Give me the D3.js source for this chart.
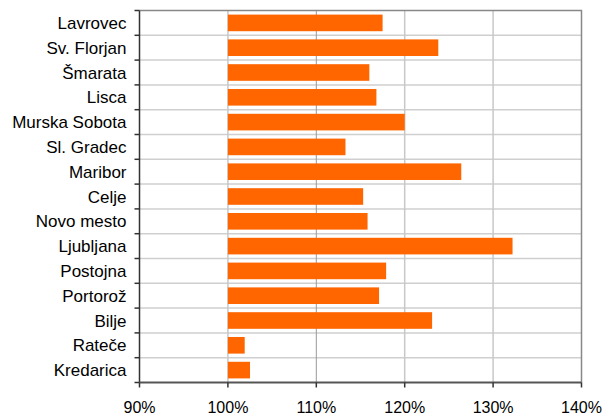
<!DOCTYPE html>
<html><head><meta charset="utf-8">
<script src="https://cdn.jsdelivr.net/npm/d3@7"></script>
<style>body{margin:0;background:#fff}svg{display:block}text{font-family:"Liberation Sans",Arial,sans-serif;fill:#000}</style>
</head><body>
<script>
const categories = ["Lavrovec","Sv. Florjan","Šmarata","Lisca","Murska Sobota","Sl. Gradec","Maribor","Celje","Novo mesto","Ljubljana","Postojna","Portorož","Bilje","Rateče","Kredarica"];
const values = [117.5,123.8,116.0,116.8,120.0,113.3,126.4,115.3,115.8,132.2,117.9,117.1,123.1,101.9,102.5];
const xTicks = [90,100,110,120,130,140];
const baseValue = 100;

const W = 605, H = 414;
const m = {left:139.5, right:23.5, top:10.5, bottom:31.5};
const svg = d3.select("body").append("svg").attr("width",W).attr("height",H);

const x = d3.scaleLinear().domain([90,140]).range([m.left, W-m.right]);
const y = d3.scaleBand().domain(categories).range([m.top, H-m.bottom]).padding(0);
const bh = y.bandwidth()*0.67;

// horizontal gridlines at category boundaries
const bounds = categories.map(c => y(c)).concat([H-m.bottom]);
svg.append("g").selectAll("line").data(bounds.slice(1,-1)).join("line")
  .attr("x1",m.left).attr("x2",W-m.right).attr("y1",d=>d).attr("y2",d=>d)
  .attr("stroke","#cfcfcf").attr("stroke-width",1.5);
// vertical gridlines
svg.append("g").selectAll("line").data(xTicks.slice(1,-1)).join("line")
  .attr("x1",d=>x(d)).attr("x2",d=>x(d)).attr("y1",m.top).attr("y2",H-m.bottom)
  .attr("stroke",d=>d===110?"#999":"#c8c8c8").attr("stroke-width",d=>d===110?1:1.5);

// bars
svg.append("g").selectAll("rect").data(categories).join("rect")
  .attr("x",x(baseValue))
  .attr("y",(c)=>y(c)+(y.bandwidth()-bh)/2)
  .attr("width",(c,i)=>x(values[i])-x(baseValue))
  .attr("height",bh)
  .attr("fill","#ff6600");

// border top/right
svg.append("path").attr("d",`M${m.left},${m.top}H${W-m.right}V${H-m.bottom}`)
  .attr("fill","none").attr("stroke","#888").attr("stroke-width",1.5);

// left axis
const ga = svg.append("g");
ga.append("line").attr("x1",m.left).attr("x2",m.left).attr("y1",m.top).attr("y2",H-m.bottom)
  .attr("stroke","#333").attr("stroke-width",1.5);
ga.selectAll("line.t").data(bounds).join("line").attr("class","t")
  .attr("x1",m.left-5).attr("x2",m.left).attr("y1",d=>d).attr("y2",d=>d)
  .attr("stroke","#333").attr("stroke-width",1.5);
ga.selectAll("text").data(categories).join("text")
  .attr("x",m.left-13).attr("y",c=>y(c)+y.bandwidth()/2).attr("dy","0.36em")
  .attr("text-anchor","end").attr("font-size","17px").text(c=>c);

// bottom axis
const gb = svg.append("g");
gb.append("line").attr("x1",m.left).attr("x2",W-m.right).attr("y1",H-m.bottom).attr("y2",H-m.bottom)
  .attr("stroke","#555").attr("stroke-width",2);
gb.selectAll("line.t").data(xTicks).join("line").attr("class","t")
  .attr("x1",d=>x(d)).attr("x2",d=>x(d)).attr("y1",H-m.bottom).attr("y2",H-m.bottom+5)
  .attr("stroke","#333").attr("stroke-width",1.5);
gb.selectAll("text").data(xTicks).join("text")
  .attr("x",d=>x(d)).attr("y",412.5)
  .attr("text-anchor","middle").attr("font-size","16px").text(d=>d+"%");
</script>
</body></html>
